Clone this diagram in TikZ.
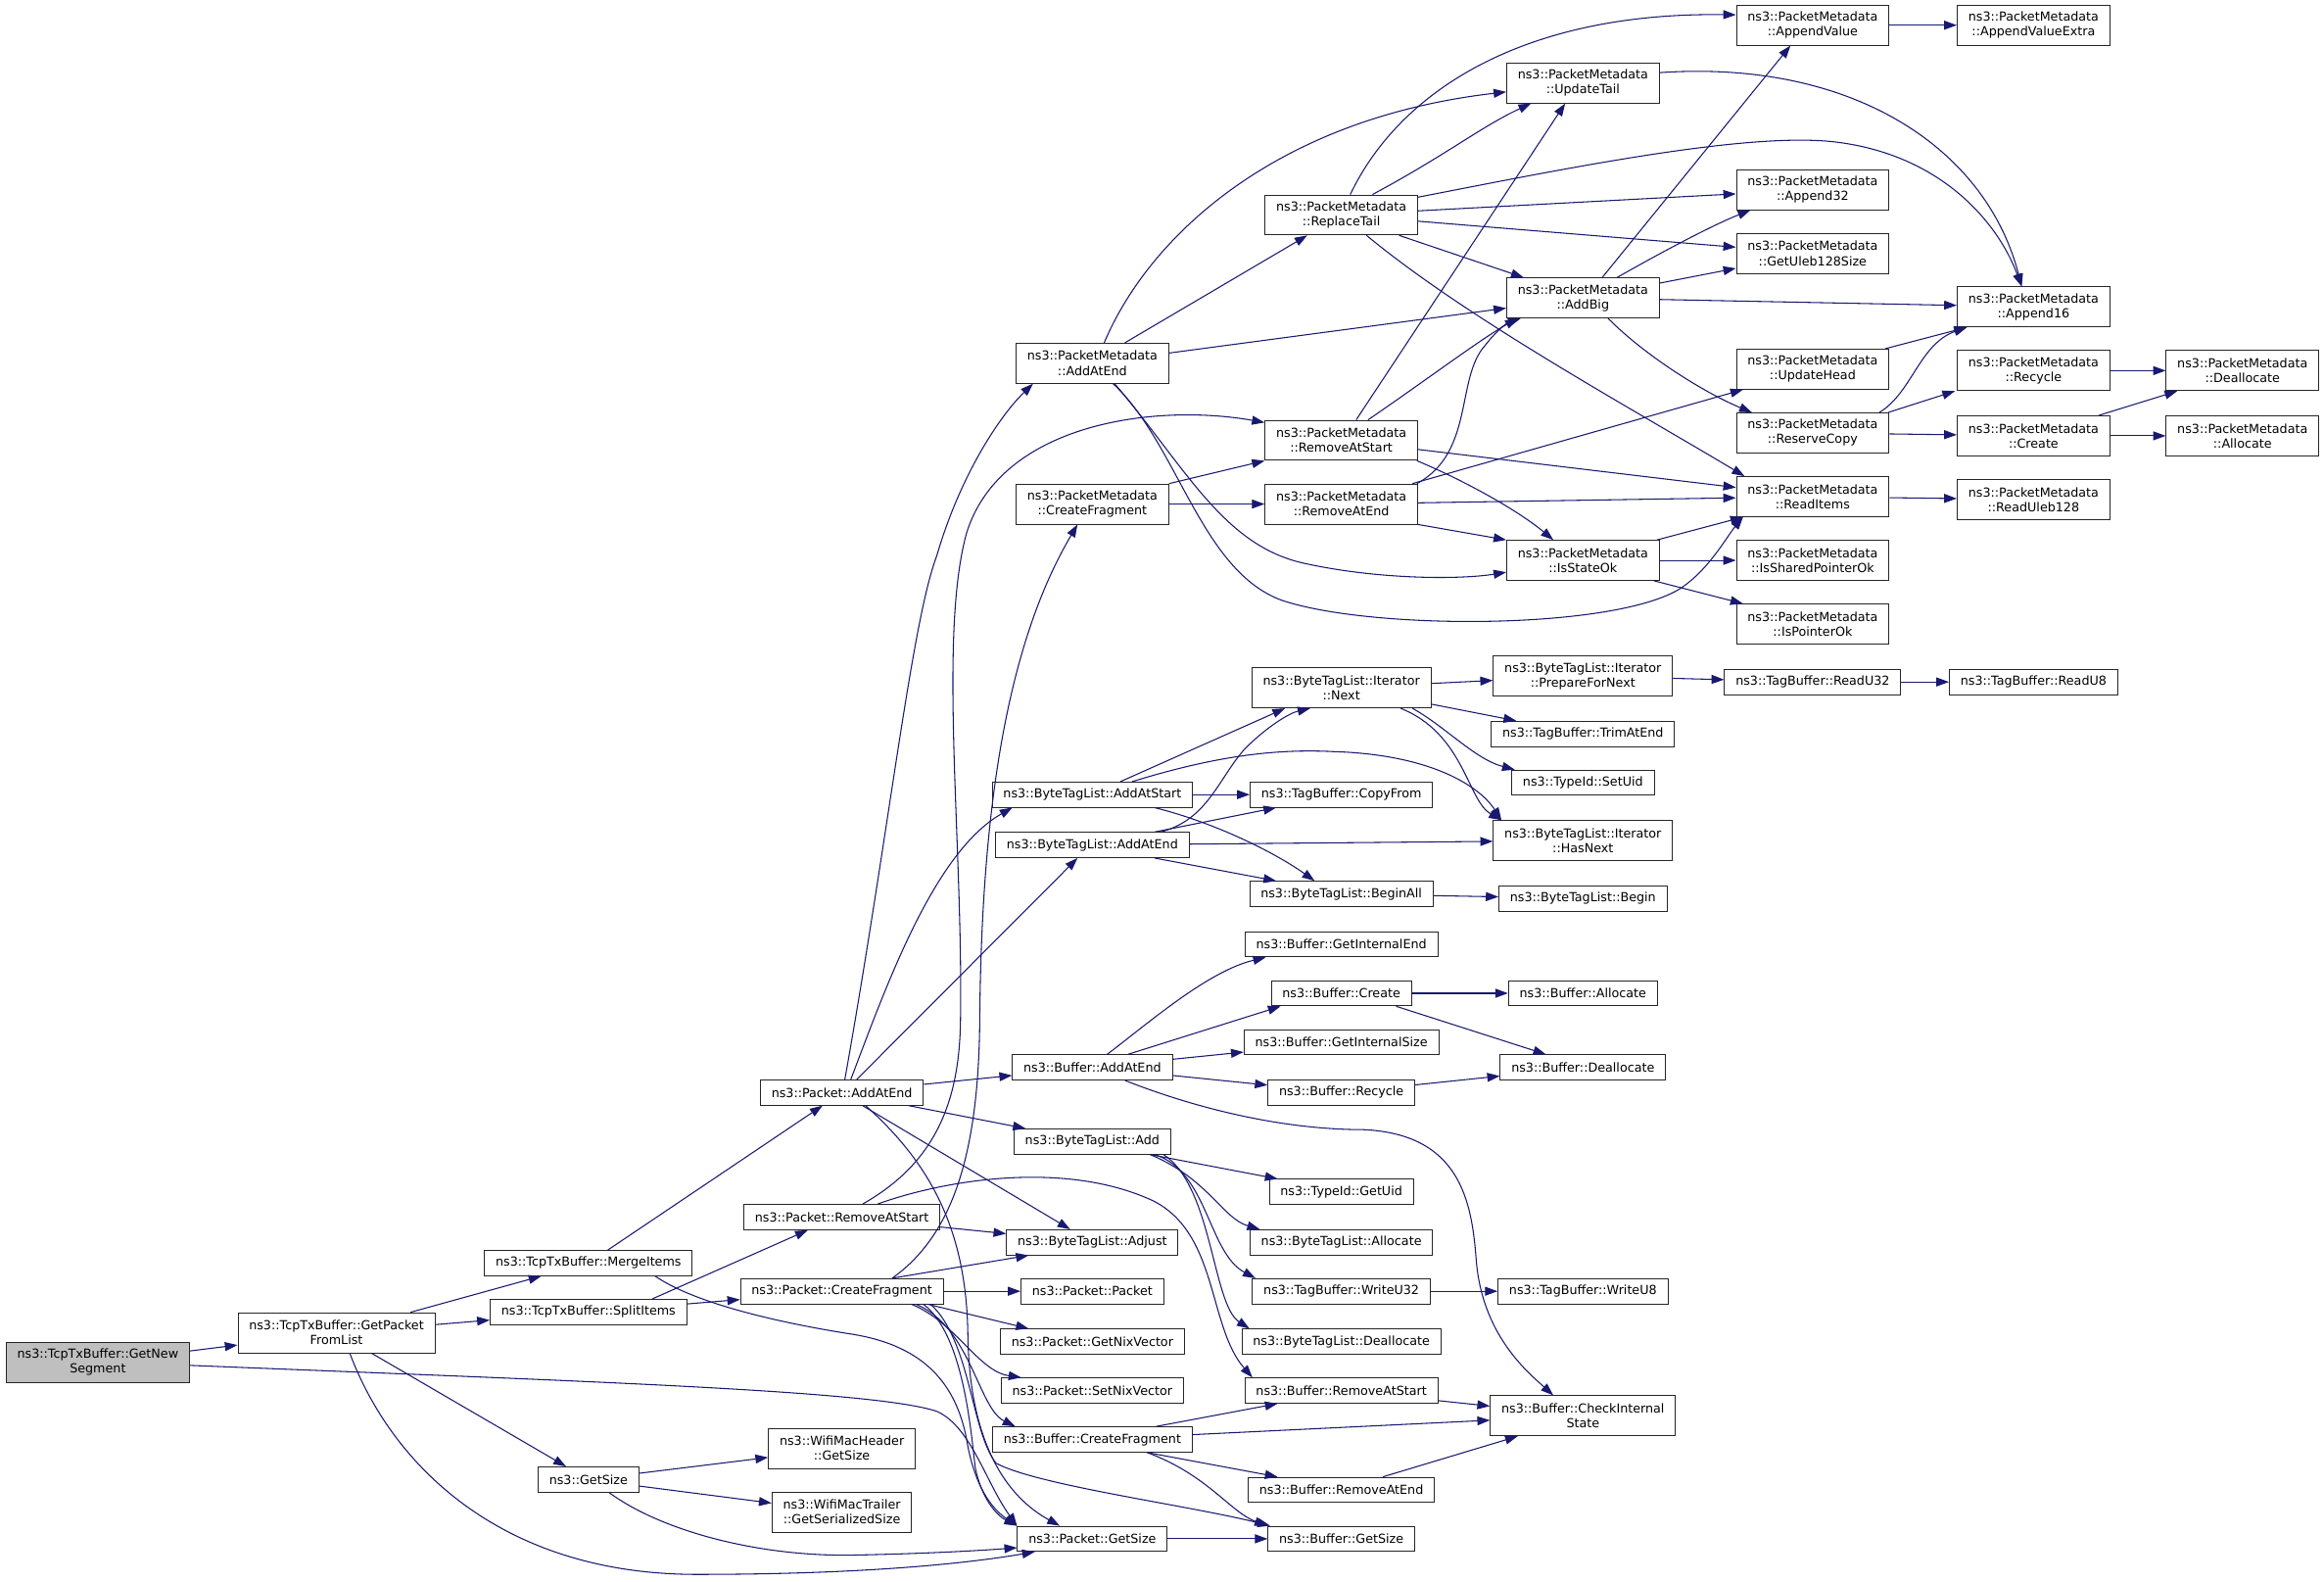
\documentclass[tikz,border=0pt]{standalone}
\usepackage{fontspec}
\setmainfont{DejaVu Sans}
\usetikzlibrary{arrows.meta}
\definecolor{edgec}{RGB}{25,25,112}
\tikzset{
  fn/.style={draw=black!85, line width=0.6pt, fill=white, font=\fontsize{8.4}{10}\selectfont, align=center, inner xsep=7.5pt, inner ysep=2pt, minimum height=17pt},
  fn2/.style={fn, minimum height=27pt},
  rootfn/.style={fn2, fill=black!25},
  edge/.style={draw=edgec, line width=0.7pt, -{Triangle[length=8.5pt,width=6pt]}}
}
\begin{document}
\begin{tikzpicture}[x=1pt,y=-1pt]
\fill[white] (0,0) rectangle (1568,1067);
% column 0-2
\node[rootfn] (gns) at (66,919) {ns3::TcpTxBuffer::GetNew\\Segment};
\node[fn2] (gpfl) at (227,899) {ns3::TcpTxBuffer::GetPacket\\FromList};
\node[fn] (merge) at (397,852) {ns3::TcpTxBuffer::MergeItems};
\node[fn] (split) at (397,885) {ns3::TcpTxBuffer::SplitItems};
\node[fn] (gsize) at (397,998) {ns3::GetSize};
% column 3
\node[fn] (pae) at (568,737) {ns3::Packet::AddAtEnd};
\node[fn] (prs) at (568,821) {ns3::Packet::RemoveAtStart};
\node[fn] (pcf) at (568,871) {ns3::Packet::CreateFragment};
\node[fn2] (wmh) at (568,977) {ns3::WifiMacHeader\\::GetSize};
\node[fn2] (wmt) at (568,1020) {ns3::WifiMacTrailer\\::GetSerializedSize};
% column 4
\node[fn2] (pmae) at (737,245) {ns3::PacketMetadata\\::AddAtEnd};
\node[fn2] (pmcf) at (737,340) {ns3::PacketMetadata\\::CreateFragment};
\node[fn] (btlas) at (737,536) {ns3::ByteTagList::AddAtStart};
\node[fn] (btlae) at (737,570) {ns3::ByteTagList::AddAtEnd};
\node[fn] (bae) at (737,720) {ns3::Buffer::AddAtEnd};
\node[fn] (btladd) at (737,770) {ns3::ByteTagList::Add};
\node[fn] (btladj) at (737,838) {ns3::ByteTagList::Adjust};
\node[fn] (ppk) at (737,871) {ns3::Packet::Packet};
\node[fn] (pgnv) at (737,905) {ns3::Packet::GetNixVector};
\node[fn] (psnv) at (737,938) {ns3::Packet::SetNixVector};
\node[fn] (bcf) at (737,971) {ns3::Buffer::CreateFragment};
\node[fn] (pgs) at (737,1038) {ns3::Packet::GetSize};
% column 5
\node[fn2] (pmrt) at (905,145) {ns3::PacketMetadata\\::ReplaceTail};
\node[fn2] (pmras) at (905,297) {ns3::PacketMetadata\\::RemoveAtStart};
\node[fn2] (pmrae) at (905,340) {ns3::PacketMetadata\\::RemoveAtEnd};
\node[fn2] (itnext) at (905,464) {ns3::ByteTagList::Iterator\\::Next};
\node[fn] (tbcf) at (905,536) {ns3::TagBuffer::CopyFrom};
\node[fn] (btlba) at (905,603) {ns3::ByteTagList::BeginAll};
\node[fn] (bgie) at (905,637) {ns3::Buffer::GetInternalEnd};
\node[fn] (bcreate) at (905,670) {ns3::Buffer::Create};
\node[fn] (bgis) at (905,703) {ns3::Buffer::GetInternalSize};
\node[fn] (brec) at (905,737) {ns3::Buffer::Recycle};
\node[fn] (tigu) at (905,804) {ns3::TypeId::GetUid};
\node[fn] (btlal) at (905,838) {ns3::ByteTagList::Allocate};
\node[fn] (tbw32) at (905,871) {ns3::TagBuffer::WriteU32};
\node[fn] (btlde) at (905,905) {ns3::ByteTagList::Deallocate};
\node[fn] (bras) at (905,938) {ns3::Buffer::RemoveAtStart};
\node[fn] (brae) at (905,1005) {ns3::Buffer::RemoveAtEnd};
\node[fn] (bgs) at (905,1038) {ns3::Buffer::GetSize};
% column 6
\node[fn2] (pmut) at (1068,56) {ns3::PacketMetadata\\::UpdateTail};
\node[fn2] (pmab) at (1068,201) {ns3::PacketMetadata\\::AddBig};
\node[fn2] (pmiso) at (1068,378) {ns3::PacketMetadata\\::IsStateOk};
\node[fn2] (itpfn) at (1068,456) {ns3::ByteTagList::Iterator\\::PrepareForNext};
\node[fn] (tbtrim) at (1068,495) {ns3::TagBuffer::TrimAtEnd};
\node[fn] (tisu) at (1068,528) {ns3::TypeId::SetUid};
\node[fn2] (ithn) at (1068,567) {ns3::ByteTagList::Iterator\\::HasNext};
\node[fn] (btlb) at (1068,606) {ns3::ByteTagList::Begin};
\node[fn] (balloc) at (1068,670) {ns3::Buffer::Allocate};
\node[fn] (bdealloc) at (1068,720) {ns3::Buffer::Deallocate};
\node[fn] (tbw8) at (1068,871) {ns3::TagBuffer::WriteU8};
\node[fn2] (bcis) at (1068,955) {ns3::Buffer::CheckInternal\\State};
% column 7
\node[fn2] (pmav) at (1223,17) {ns3::PacketMetadata\\::AppendValue};
\node[fn2] (pma32) at (1223,128) {ns3::PacketMetadata\\::Append32};
\node[fn2] (pmgus) at (1223,171) {ns3::PacketMetadata\\::GetUleb128Size};
\node[fn2] (pmuh) at (1223,249) {ns3::PacketMetadata\\::UpdateHead};
\node[fn2] (pmrc) at (1223,292) {ns3::PacketMetadata\\::ReserveCopy};
\node[fn2] (pmri) at (1223,335) {ns3::PacketMetadata\\::ReadItems};
\node[fn2] (pmispo) at (1223,378) {ns3::PacketMetadata\\::IsSharedPointerOk};
\node[fn2] (pmipo) at (1223,421) {ns3::PacketMetadata\\::IsPointerOk};
\node[fn] (tbr32) at (1223,460) {ns3::TagBuffer::ReadU32};
% column 8
\node[fn2] (pmave) at (1372,17) {ns3::PacketMetadata\\::AppendValueExtra};
\node[fn2] (pma16) at (1372,207) {ns3::PacketMetadata\\::Append16};
\node[fn2] (pmrcy) at (1372,250) {ns3::PacketMetadata\\::Recycle};
\node[fn2] (pmcr) at (1372,294) {ns3::PacketMetadata\\::Create};
\node[fn2] (pmru) at (1372,337) {ns3::PacketMetadata\\::ReadUleb128};
\node[fn] (tbr8) at (1372,460) {ns3::TagBuffer::ReadU8};
% column 9
\node[fn2] (pmdea) at (1513,250) {ns3::PacketMetadata\\::Deallocate};
\node[fn2] (pmal) at (1513,294) {ns3::PacketMetadata\\::Allocate};

% ---- straight edges
\foreach \a/\b in {gns/gpfl, gpfl/merge, gpfl/split, gpfl/gsize, split/pcf, gsize/wmh, gsize/wmt, merge/pae, pae/bae, pae/btladd, prs/btladj, pcf/ppk, bae/bgis, bae/brec, bcreate/balloc, brec/bdealloc, tbw32/tbw8, bcf/bcis, bras/bcis, pgs/bgs, btlas/tbcf, btlae/ithn, itnext/itpfn, itpfn/tbr32, tbr32/tbr8, btlba/btlb, pmae/pmab, pmrt/pma32, pmrt/pmgus, pmab/pmgus, pmab/pma16, pmrc/pmcr, pmrcy/pmdea, pmcr/pmal, pmri/pmru, pmras/pmri, pmrae/pmri, pmcf/pmrae, pmiso/pmispo, pmav/pmave}
  \draw[edge] (\a) -- (\b);

% ---- left part
\draw[edge] ([yshift=-2pt]gns.east) .. controls (400,932) and (590,938) .. (632,952) .. controls (655,962) and (665,1000) .. (pgs.north west);
\draw[edge] ([xshift=9pt]gpfl.south) .. controls (265,990) and (340,1062) .. (470,1062) .. controls (580,1062) and (650,1055) .. ([xshift=12pt]pgs.south west);
\draw[edge] ([xshift=45pt]merge.south) .. controls (470,880) and (530,893) .. (575,900) .. controls (625,908) and (645,935) .. (652,970) .. controls (656,995) and (665,1015) .. (pgs.north west);
\draw[edge] ([xshift=43pt]split.north) -- ([xshift=-23pt]prs.south);
\draw[edge] ([xshift=14pt]gsize.south) .. controls (445,1032) and (510,1050) .. (575,1049) .. controls (625,1048) and (660,1046) .. ([yshift=-6pt]pgs.west);

% ---- Packet::AddAtEnd
\draw[edge] ([xshift=2pt]pae.north) .. controls (600,560) and (615,420) .. (632,375) .. controls (648,320) and (675,280) .. ([xshift=-40pt]pmae.south);
\draw[edge] ([xshift=6pt]pae.north) .. controls (598,665) and (630,575) .. ([xshift=-54pt]btlas.south);
\draw[edge] ([xshift=10pt]pae.north) -- ([xshift=-10pt]btlae.south);
\draw[edge] ([xshift=14pt]pae.south) -- ([xshift=-15pt]btladj.north);
\draw[edge] ([xshift=16pt]pae.south) .. controls (628,785) and (652,830) .. (653,900) .. controls (654,975) and (680,1010) .. ([xshift=-22pt]pgs.north);

% ---- Packet::RemoveAtStart
\draw[edge] ([xshift=14pt]prs.north) .. controls (630,785) and (647,745) .. (648,690) .. controls (650,570) and (633,430) .. (652,360) .. controls (675,285) and (780,272) .. ([yshift=12pt]pmras.west);
\draw[edge] ([xshift=24pt]prs.north) .. controls (640,795) and (720,783) .. (778,810) .. controls (822,832) and (815,895) .. ([xshift=-60pt]bras.north);

% ---- Packet::CreateFragment
\draw[edge] ([xshift=34pt]pcf.north) .. controls (640,835) and (660,785) .. (661,690) .. controls (662,560) and (676,440) .. ([xshift=-10pt]pmcf.south);
\draw[edge] ([xshift=34pt]pcf.north) -- ([xshift=-43pt]btladj.south);
\draw[edge] ([xshift=58pt]pcf.south) -- ([xshift=-43pt]pgnv.north);
\draw[edge] ([xshift=47pt]pcf.south) .. controls (645,892) and (660,925) .. ([xshift=-48pt]psnv.north);
\draw[edge] ([xshift=50pt]pcf.south) .. controls (655,895) and (660,950) .. ([xshift=-52pt]bcf.north);
\draw[edge] ([xshift=55pt]pcf.south) .. controls (650,900) and (655,965) .. (658,990) .. controls (662,1010) and (672,1022) .. (pgs.north west);
\draw[edge] ([xshift=60pt]pcf.south) .. controls (655,905) and (655,965) .. (672,987) .. controls (700,1002) and (800,1015) .. ([xshift=-48pt]bgs.north);

% ---- Buffer
\draw[edge] ([xshift=10pt]bae.north) .. controls (775,690) and (815,655) .. ([xshift=-51pt]bgie.south);
\draw[edge] ([xshift=24pt]bae.north) -- ([xshift=-41pt]bcreate.south);
\draw[edge] ([xshift=22pt]bae.south) .. controls (800,745) and (860,762) .. (920,762) .. controls (985,765) and (993,810) .. (996,850) .. controls (1000,900) and (1030,925) .. ([xshift=-20pt]bcis.north);
\draw[edge] ([xshift=37pt]bcreate.south) -- ([xshift=-25pt]bdealloc.north);
\draw[edge] ([xshift=43pt]bcf.north) -- ([xshift=-43pt]bras.south);
\draw[edge] ([xshift=37pt]bcf.south) -- ([xshift=-43pt]brae.north);
\draw[edge] ([xshift=37pt]bcf.south) .. controls (815,995) and (830,1020) .. ([xshift=-50pt]bgs.north);
\draw[edge] ([xshift=28pt]brae.north) -- ([xshift=-44pt]bcis.south);

% ---- ByteTagList::Add
\draw[edge] ([xshift=39pt]btladd.south) -- ([xshift=-43pt]tigu.north);
\draw[edge] ([xshift=39pt]btladd.south) .. controls (815,795) and (825,822) .. ([xshift=-55pt]btlal.north);
\draw[edge] ([xshift=42pt]btladd.south) .. controls (815,790) and (815,845) .. ([xshift=-58pt]tbw32.north);
\draw[edge] ([xshift=48pt]btladd.south) .. controls (818,800) and (818,880) .. ([xshift=-62pt]btlde.north);

% ---- ByteTagList AddAtStart / AddAtEnd / Iterator
\draw[edge] ([xshift=19pt]btlas.north) -- ([xshift=-38pt]itnext.south);
\draw[edge] ([xshift=27pt]btlas.north) .. controls (820,510) and (860,505) .. (900,507) .. controls (965,509) and (998,530) .. ([xshift=-55pt]ithn.north);
\draw[edge] ([xshift=42pt]btlas.south) .. controls (820,555) and (860,575) .. ([xshift=-18pt]btlba.north);
\draw[edge] ([xshift=46pt]btlae.north) .. controls (815,553) and (822,525) .. (840,505) .. controls (855,490) and (870,481) .. ([xshift=-21pt]itnext.south);
\draw[edge] ([xshift=42pt]btlae.north) -- ([xshift=-44pt]tbcf.south);
\draw[edge] ([xshift=42pt]btlae.south) -- ([xshift=-44pt]btlba.north);
\draw[edge] ([yshift=-11pt]itnext.east) -- ([xshift=-45pt]tbtrim.north);
\draw[edge] ([xshift=48pt]itnext.south) .. controls (975,490) and (995,512) .. ([xshift=-46pt]tisu.north);
\draw[edge] ([xshift=40pt]itnext.south) .. controls (988,495) and (990,540) .. ([xshift=-55pt]ithn.north);

% ---- PacketMetadata
\draw[edge] ([xshift=8pt]pmae.north) .. controls (775,160) and (860,80) .. ([yshift=-6pt]pmut.west);
\draw[edge] ([xshift=22pt]pmae.north) -- ([xshift=-23pt]pmrt.south);
\draw[edge] ([xshift=15pt]pmae.south) .. controls (800,315) and (825,368) .. (880,380) .. controls (930,391) and (985,391) .. ([yshift=-8pt]pmiso.west);
\draw[edge] ([xshift=14pt]pmae.south) .. controls (795,300) and (810,385) .. (865,405) .. controls (925,425) and (1085,425) .. (1132,398) .. controls (1152,386) and (1165,362) .. ([xshift=-47pt]pmri.south);
\draw[edge] ([xshift=6pt]pmrt.north) .. controls (945,60) and (1030,8) .. ([yshift=7pt]pmav.west);
\draw[edge] ([xshift=21pt]pmrt.north) .. controls (975,105) and (1000,85) .. ([xshift=-35pt]pmut.south);
\draw[edge] ([yshift=12pt]pmrt.east) .. controls (1050,115) and (1180,88) .. (1240,96) .. controls (1310,105) and (1348,150) .. ([xshift=-8pt]pma16.north);
\draw[edge] ([xshift=39pt]pmrt.south) -- ([xshift=-40pt]pmab.north);
\draw[edge] ([xshift=17pt]pmrt.south) .. controls (990,215) and (1100,275) .. ([xshift=-46pt]pmri.north);
\draw[edge] ([yshift=7pt]pmut.east) .. controls (1250,40) and (1340,100) .. ([xshift=-8pt]pma16.north);
\draw[edge] ([xshift=13pt]pmab.north) -- ([xshift=-15pt]pmav.south);
\draw[edge] ([xshift=23pt]pmab.north) .. controls (1130,165) and (1160,150) .. ([xshift=-42pt]pma32.south);
\draw[edge] ([xshift=17pt]pmab.south) .. controls (1110,240) and (1150,265) .. ([xshift=-41pt]pmrc.north);
\draw[edge] ([xshift=49pt]pmuh.north) -- ([xshift=-45pt]pma16.south);
\draw[edge] ([xshift=45pt]pmrc.north) .. controls (1290,265) and (1295,232) .. ([xshift=-45pt]pma16.south);
\draw[edge] ([xshift=51pt]pmrc.north) -- ([xshift=-53pt]pmrcy.south);
\draw[edge] ([xshift=44pt]pmcr.north) -- ([xshift=-44pt]pmdea.south);
\draw[edge] ([xshift=10pt]pmras.north) -- ([xshift=-12pt]pmut.south);
\draw[edge] ([xshift=18pt]pmras.north) .. controls (960,258) and (1000,228) .. ([xshift=-44pt]pmab.south);
\draw[edge] ([xshift=51pt]pmras.south) .. controls (990,325) and (1025,345) .. ([xshift=-20pt]pmiso.north);
\draw[edge] ([xshift=51pt]pmrae.north) .. controls (995,305) and (982,255) .. (1002,233) .. controls (1008,225) and (1016,218) .. ([xshift=-42pt]pmab.south);
\draw[edge] ([xshift=48pt]pmrae.north) -- ([xshift=-47pt]pmuh.south);
\draw[edge] (pmrae.south east) -- (pmiso.north west);
\draw[edge] (pmcf.north east) -- (pmras.south west);
\draw[edge] ([xshift=50pt]pmiso.north) -- ([xshift=-47pt]pmri.south);
\draw[edge] ([xshift=48pt]pmiso.south) -- ([xshift=-47pt]pmipo.north);
\end{tikzpicture}
\end{document}
